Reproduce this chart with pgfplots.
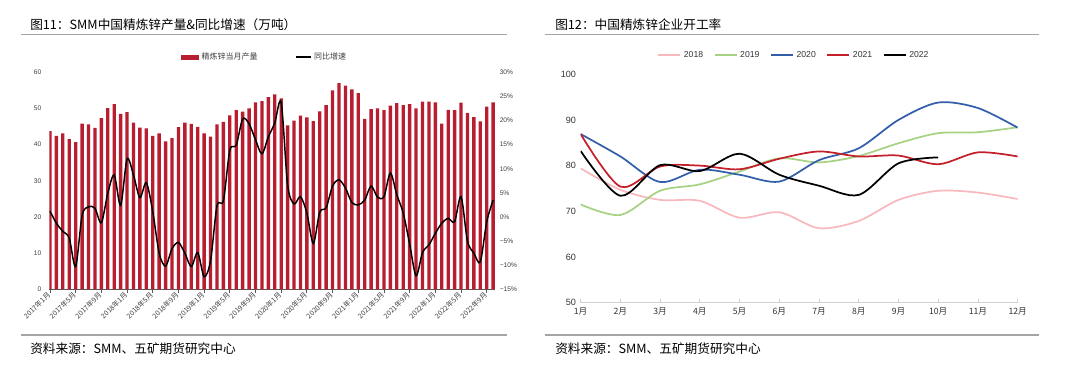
\documentclass[border=0pt]{standalone}
\usepackage{pgfplots}
\pgfplotsset{compat=1.18}
\usepackage{pgfplotstable}
\usepackage{fontspec}
\setmainfont{Liberation Sans}
\newfontfamily\cjk{Noto Sans CJK SC}
\definecolor{zred}{RGB}{184,30,48}
\definecolor{c18}{RGB}{248,184,190}
\definecolor{c19}{RGB}{166,210,132}
\definecolor{c20}{RGB}{52,94,170}
\definecolor{c21}{RGB}{196,32,44}
\definecolor{c22}{RGB}{0,0,0}
\definecolor{rulegray}{RGB}{165,165,165}

\pgfplotstableread{
i prod yoy
0 43.7 1.2
1 42.4 -1.3
2 43.1 -3.0
3 41.5 -4.4
4 40.7 -10.3
5 45.8 0.3
6 45.6 2.1
7 44.6 1.8
8 47.3 -1.2
9 50.1 4.9
10 51.2 8.7
11 48.5 2.4
12 49.0 12.0
13 46.1 8.7
14 44.7 4.0
15 44.5 7.1
16 42.4 1.1
17 43.1 -7.5
18 40.9 -10.2
19 41.8 -6.6
20 44.8 -5.3
21 46.1 -7.5
22 45.7 -10.3
23 44.9 -7.4
24 43.1 -12.4
25 42.2 -9.1
26 45.6 2.3
27 46.3 3.4
28 48.1 13.8
29 49.5 14.9
30 49.1 20.3
31 50.0 19.3
32 51.7 16.0
33 52.0 13.1
34 53.1 16.6
35 53.9 19.5
36 52.8 23.7
37 45.3 6.6
38 46.6 2.7
39 48.0 4.2
40 47.5 0.8
41 46.5 -5.5
42 49.2 1.0
43 50.9 1.9
44 55.0 6.4
45 57.0 7.7
46 56.3 6.0
47 55.3 3.0
48 54.2 2.5
49 47.1 3.5
50 49.8 6.4
51 50.0 4.1
52 49.5 4.2
53 50.8 9.1
54 51.5 4.6
55 50.9 0.8
56 51.2 -5.6
57 50.0 -12.2
58 51.9 -7.4
59 51.9 -5.8
60 51.7 -3.4
61 45.8 -1.3
62 49.6 -0.3
63 49.5 -1.0
64 51.6 4.2
65 48.8 -5.0
66 47.6 -7.5
67 46.4 -9.3
68 50.5 -1.0
69 51.7 3.5
}\zinc

\pgfplotstableread{
m y18 y19 y20 y21 y22
1 79.4 71.5 86.9 86.9 83.2
2 74.7 69.2 82.0 75.4 73.4
3 72.5 74.5 76.4 79.8 80.1
4 72.3 75.9 79.1 80.0 78.8
5 68.6 78.7 78.0 79.2 82.6
6 69.8 81.6 76.5 81.5 78.0
7 66.3 80.7 81.2 83.1 75.6
8 67.9 82.1 83.8 82.0 73.6
9 72.5 84.9 90.0 82.2 80.5
10 74.5 87.1 93.8 80.3 81.8
11 74.1 87.3 92.6 82.9 nan
12 72.7 88.4 88.3 82.0 nan
}\rate

\begin{document}
\begin{tikzpicture}
\path[use as bounding box] (0,0) rectangle (810pt,285.75pt);

% ---------- titles, rules, sources ----------
\node[anchor=base west, inner sep=0] at (22.5pt,263.25pt) {\cjk\fontsize{9.5}{11}\selectfont 图11：SMM中国精炼锌产量\&同比增速（万吨）};
\node[anchor=base west, inner sep=0] at (416.25pt,263.25pt) {\cjk\fontsize{9.5}{11}\selectfont 图12：中国精炼锌企业开工率};
\draw[rulegray, line width=1.1pt] (15.75pt,259.7pt) -- (380.6pt,259.7pt);
\draw[rulegray, line width=1.1pt] (408.75pt,259.7pt) -- (779.25pt,259.7pt);
\draw[rulegray, line width=1.1pt] (15.75pt,34.5pt) -- (380.6pt,34.5pt);
\draw[rulegray, line width=1.1pt] (408.75pt,34.5pt) -- (779.25pt,34.5pt);
\node[anchor=base west, inner sep=0] at (22.5pt,20.5pt) {\cjk\fontsize{9.5}{11}\selectfont 资料来源：SMM、五矿期货研究中心};
\node[anchor=base west, inner sep=0] at (416.25pt,20.5pt) {\cjk\fontsize{9.5}{11}\selectfont 资料来源：SMM、五矿期货研究中心};

% ---------- left chart: bars ----------
\begin{axis}[
  at={(37pt,68.8pt)}, anchor=south west,
  width=334.3pt, height=162.75pt, scale only axis,
  xmin=-0.1, xmax=69.3, ymin=0, ymax=60,
  ytick={0,10,...,60},
  xtick={0,4,...,68},
  xticklabels={2017年1月,2017年5月,2017年9月,2018年1月,2018年5月,2018年9月,2019年1月,2019年5月,2019年9月,2020年1月,2020年5月,2020年9月,2021年1月,2021年5月,2021年9月,2022年1月,2022年5月,2022年9月},
  axis x line*=bottom, axis y line*=left,
  y axis line style={draw=none},
  x axis line style={draw=black!65, line width=0.8pt},
  xtick style={draw=black!65, line width=0.6pt},
  ytick style={draw=none},
  tick align=outside, major tick length=2.5pt,
  x tick label style={font=\cjk\fontsize{5.3}{6}\selectfont, rotate=45, anchor=east, text=black!75, inner sep=1pt},
  y tick label style={font=\fontsize{5}{6}\selectfont, text=black!75},
  /pgf/number format/assume math mode=true,
]
\addplot[ybar, bar width=2.5pt, bar shift=0pt, fill=zred, draw=none] table[x=i,y=prod]{\zinc};
\end{axis}

% ---------- left chart: YoY line ----------
\begin{axis}[
  at={(37pt,68.8pt)}, anchor=south west,
  width=334.3pt, height=162.75pt, scale only axis,
  xmin=-0.1, xmax=69.3, ymin=-15, ymax=30,
  axis x line=none, axis y line*=right,
  y axis line style={draw=none}, ytick style={draw=none},
  ytick={-15,-10,...,30},
  yticklabels={−15\%,−10\%,−5\%,0\%,5\%,10\%,15\%,20\%,25\%,30\%},
  y tick label style={font=\fontsize{5}{6}\selectfont, text=black!75},
  legend style={at={(0.484,1.07)}, anchor=center, draw=none, fill=none,
    legend columns=2, font=\cjk\fontsize{6}{7}\selectfont, text=black!75,
    /tikz/every even column/.append style={column sep=26pt}},
]
\addlegendimage{legend image code/.code={\fill[zred] (0pt,-1.6pt) rectangle (12.75pt,1.6pt);}}
\addlegendentry{精炼锌当月产量}
\addplot[black, line width=1.1pt, smooth, legend image code/.code={\draw[black,line width=1pt] (0pt,0pt) -- (11.25pt,0pt);}] table[x=i,y=yoy]{\zinc};
\addlegendentry{同比增速}
\end{axis}

% ---------- right chart ----------
\begin{axis}[
  at={(435.5pt,58.7pt)}, anchor=south west,
  width=327.75pt, height=171.4pt, scale only axis,
  xmin=1, xmax=12, ymin=50, ymax=100,
  xtick={1,...,12},
  xticklabels={1月,2月,3月,4月,5月,6月,7月,8月,9月,10月,11月,12月},
  ytick={50,60,...,100},
  axis x line*=bottom, axis y line*=left,
  y axis line style={draw=none}, ytick style={draw=none},
  x axis line style={draw=black!18, line width=0.8pt},
  xtick style={draw=black!18, line width=0.6pt},
  tick align=inside, major tick length=2.5pt,
  x tick label style={font=\cjk\fontsize{6.5}{7}\selectfont, text=black!80},
  y tick label style={font=\fontsize{6.8}{8}\selectfont, text=black!80},
  /pgf/number format/assume math mode=true,
  legend style={at={(0.489,1.084)}, anchor=center, draw=none, fill=none,
    legend columns=5, font=\fontsize{6.5}{7}\selectfont, text=black!80,
    /tikz/every even column/.append style={column sep=6pt}},
  legend image code/.code={\draw[line width=1.3pt] (0pt,0pt) -- (16.5pt,0pt);},
]
\addplot[c18, line width=1.3pt, smooth] table[x=m,y=y18]{\rate};
\addlegendentry{2018}
\addplot[c19, line width=1.3pt, smooth] table[x=m,y=y19]{\rate};
\addlegendentry{2019}
\addplot[c20, line width=1.3pt, smooth] table[x=m,y=y20]{\rate};
\addlegendentry{2020}
\addplot[c21, line width=1.3pt, smooth] table[x=m,y=y21]{\rate};
\addlegendentry{2021}
\addplot[c22, line width=1.3pt, smooth] table[x=m,y=y22]{\rate};
\addlegendentry{2022}
\end{axis}
\end{tikzpicture}
\end{document}
